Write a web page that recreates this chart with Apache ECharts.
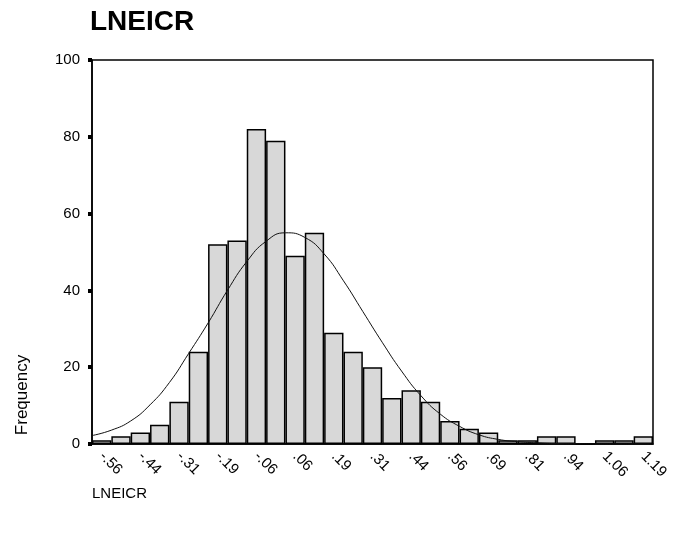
<!DOCTYPE html>
<html>
<head>
<meta charset="utf-8">
<title>LNEICR</title>
<script src="https://cdn.jsdelivr.net/npm/echarts@6/dist/echarts.min.js"></script>
<style>
    html,body{margin:0;padding:0;background:#fff;}
    #chart{width:690px;height:533px;}
</style>
</head>
<body>
<div id="chart"></div>
<script>
// bin midpoints (SPSS style labels), only every second one is printed
const binLabels = ['-.56','-.50','-.44','-.38','-.31','-.25','-.19','-.13','-.06','.00',
    '.06','.13','.19','.25','.31','.38','.44','.50','.56','.63',
    '.69','.75','.81','.88','.94','1.00','1.06','1.13','1.19']
// frequency of each bin
const counts = [1,2,3,5,11,24,52,53,82,79,49,55,29,24,20,12,14,11,6,4,3,1,1,2,2,0,1,1,2]
// normal curve at the bin edges
const curveX = [-0.59375,-0.53125,-0.46875,-0.40625,-0.34375,-0.28125,-0.21875,-0.15625,-0.09375,-0.03125,
    0.03125,0.09375,0.15625,0.21875,0.28125,0.34375,0.40625,0.46875,0.53125,0.59375,
    0.65625,0.71875,0.78125,0.84375,0.90625,0.96875,1.03125,1.09375,1.15625,1.21875]
const curveY = [2.2,3.6,6.0,10.2,16.0,23.6,31.5,40.0,47.5,52.8,
    55.0,53.8,49.5,42.5,34.5,26.5,19.0,12.6,7.8,4.6,
    2.4,1.2,0.6,0.3,0.1,0.05,0,0,0,0]

const font = '"Liberation Sans", Arial, sans-serif'
const chart = echarts.init(document.getElementById('chart'))

const option = {
    animation:false,
    backgroundColor:'#fff',
    title:{
        text:'LNEICR',
        left:90,
        top:8,
        padding:0,
        textStyle:{fontFamily:font,fontSize:28,fontWeight:'bold',color:'#000'}
    },
    grid:{
        left:92,
        right:37,
        top:60,
        bottom:89,
        show:true,
        borderColor:'#000',
        borderWidth:1.5,
        containLabel:false
    },
    xAxis:[
        {
            type:'category',
            data:binLabels,
            boundaryGap:true,
            axisLine:{lineStyle:{color:'#000',width:1.5}},
            axisTick:{alignWithLabel:true,interval:1,length:5,lineStyle:{color:'#000',width:5}},
            axisLabel:{
                interval:1,
                rotate:-45,
                margin:10,
                color:'#000',
                fontFamily:font,
                fontSize:15
            },
            splitLine:{show:false}
        },
        {
            // hidden value scale used for the fitted curve
            type:'value',
            show:false,
            min:-0.59375,
            max:1.21875
        }
    ],
    yAxis:{
        type:'value',
        min:0,
        max:100,
        interval:20,
        axisLine:{show:true,onZero:false,lineStyle:{color:'#000',width:1.5}},
        axisTick:{show:true,length:4,lineStyle:{color:'#000',width:4}},
        axisLabel:{color:'#000',fontFamily:font,fontSize:15,margin:12},
        splitLine:{show:false}
    },
    graphic:[
        {
            type:'text',
            x:14,
            y:395,
            rotation:Math.PI/2,
            style:{text:'Frequency',fontFamily:font,fontSize:17,fill:'#000',
                textAlign:'center',textVerticalAlign:'top'}
        },
        {
            type:'text',
            left:92,
            top:486,
            style:{text:'LNEICR',fontFamily:font,fontSize:15,fill:'#000'}
        }
    ],
    series:[
        {
            type:'bar',
            data:counts,
            barCategoryGap:0,
            itemStyle:{color:'#d8d8d8',borderColor:'#000',borderWidth:1.5}
        },
        {
            type:'line',
            xAxisIndex:1,
            data:curveX.map((x,i) => [x,curveY[i]]),
            smooth:true,
            symbol:'none',
            lineStyle:{color:'#111',width:1}
        }
    ]
}
chart.setOption(option)
</script>
</body>
</html>
